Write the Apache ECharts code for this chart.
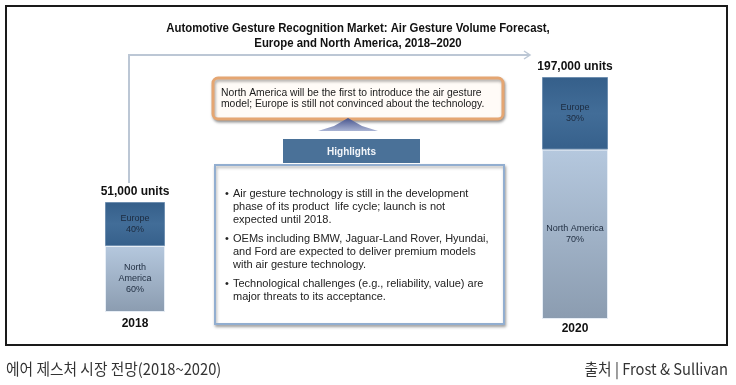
<!DOCTYPE html>
<html><head><meta charset="utf-8">
<script src="https://cdn.jsdelivr.net/npm/echarts@6/dist/echarts.min.js"></script>
<style>html,body{margin:0;padding:0;background:#fff}#c{width:736px;height:385px}</style>
</head><body><div id="c"></div>
<script>
// ---- data ----
const years = ['2018', '2020'];
const totals = [51000, 197000];
const totalLabels = ['51,000 units', '197,000 units'];
const europeShare = [40, 30];
const naShare = [60, 70];
const europeLabels = ['Europe\n40%', 'Europe\n30%'];
const naLabels = ['North\nAmerica\n60%', 'North America\n70%'];
const titleLines = ['Automotive Gesture Recognition Market: Air Gesture Volume Forecast,', 'Europe and North America, 2018\u20132020'];
const calloutLines = ['North America will be the first to introduce the air gesture', 'model; Europe is still not convinced about the technology.'];
const bullets = [
  ['Air gesture technology is still in the development', 'phase of its product  life cycle; launch is not', 'expected until 2018.'],
  ['OEMs including BMW, Jaguar-Land Rover, Hyundai,', 'and Ford are expected to deliver premium models', 'with air gesture technology.'],
  ['Technological challenges (e.g., reliability, value) are', 'major threats to its acceptance.']
];
const caption = '에어 제스처 시장 전망(2018~2020)';
const source = '출처 | Frost & Sullivan';

// ---- layout ----
const gridBoxes = [
  {left: 105, top: 202, width: 60, height: 110},
  {left: 542, top: 77, width: 66, height: 242}
];
const labelMargins = [6, 4];

const chart = echarts.init(document.getElementById('c'), null, {renderer: 'canvas'});

const grids = [], xAxes = [], yAxes = [], series = [];
years.forEach((yr, i) => {
  grids.push(Object.assign({}, gridBoxes[i]));
  xAxes.push({
    type: 'category', gridIndex: i, data: [yr],
    axisLine: {show: false}, axisTick: {show: false},
    axisLabel: {color: '#111', fontWeight: 'bold', fontSize: 12, fontFamily: 'Liberation Sans', margin: labelMargins[i]}
  });
  yAxes.push({type: 'value', gridIndex: i, min: 0, max: totals[i], show: false, splitLine: {show: false}});
  series.push({
    type: 'bar', xAxisIndex: i, yAxisIndex: i, stack: 's' + i, barWidth: '100%',
    data: [totals[i] * naShare[i] / 100],
    itemStyle: {
      color: new echarts.graphic.LinearGradient(0, 0, 0, 1, [
        {offset: 0, color: '#b5c8de'}, {offset: 1, color: '#8b9cb0'}
      ]),
      borderColor: '#e6edf5', borderWidth: 1
    },
    label: {show: true, position: 'inside', formatter: naLabels[i], color: '#1f2d40', fontSize: 9, lineHeight: 11, fontFamily: 'Liberation Sans'},
    silent: true
  });
  series.push({
    type: 'bar', xAxisIndex: i, yAxisIndex: i, stack: 's' + i, barWidth: '100%',
    data: [totals[i] * europeShare[i] / 100],
    itemStyle: {
      color: new echarts.graphic.LinearGradient(0, 0, 0, 1, [
        {offset: 0, color: '#355f8a'}, {offset: 0.5, color: '#426d98'}, {offset: 1, color: '#36608b'}
      ]),
      borderColor: '#6f8fb0', borderWidth: 1
    },
    label: {show: true, position: 'inside', formatter: europeLabels[i], color: '#1c2a3e', fontSize: 9, lineHeight: 11, fontFamily: 'Liberation Sans'},
    silent: true
  });
  series.push({
    type: 'bar', xAxisIndex: i, yAxisIndex: i, stack: 's' + i, barWidth: '100%',
    data: [0],
    itemStyle: {color: 'transparent'},
    label: {show: true, position: 'top', distance: 4, formatter: totalLabels[i], color: '#111', fontWeight: 'bold', fontSize: 12, fontFamily: 'Liberation Sans'},
    silent: true
  });
});

const graphic = [];
// outer frame
graphic.push({type: 'rect', shape: {x: 6, y: 6, width: 721, height: 339}, style: {fill: 'none', stroke: '#1a1a1a', lineWidth: 2}, z: 10});
// title
titleLines.forEach((t, k) => graphic.push({type: 'text', x: 358, y: 28 + k * 15, scaleX: 0.875, style: {text: t, font: 'bold 13px "Liberation Sans"', fill: '#111', align: 'center', verticalAlign: 'middle'}}));
// connector arrow
graphic.push({type: 'polyline', shape: {points: [[129, 183], [129, 55], [529, 55]]}, style: {stroke: '#bcc7d5', lineWidth: 2, fill: 'none'}});
graphic.push({type: 'polyline', shape: {points: [[524, 51], [530, 55], [524, 59]]}, style: {stroke: '#bcc7d5', lineWidth: 1.5, fill: 'none'}});
// callout
graphic.push({type: 'rect', shape: {x: 213, y: 78, width: 290, height: 41, r: 5}, style: {fill: '#fffbf7', stroke: '#e5a672', lineWidth: 3, shadowColor: 'rgba(0,0,0,0.35)', shadowBlur: 3, shadowOffsetX: 1, shadowOffsetY: 2}});
calloutLines.forEach((t, k) => graphic.push({type: 'text', x: 221, y: 93 + k * 11, scaleX: 0.9, style: {text: t, font: '11.5px "Liberation Sans"', fill: '#1a1a1a', verticalAlign: 'middle'}}));
// up arrow
graphic.push({type: 'polygon', shape: {points: [[318, 131], [334, 126], [348, 118], [362, 126], [378, 131]]}, style: {fill: new echarts.graphic.LinearGradient(0, 0, 0, 1, [{offset: 0, color: '#46538c'}, {offset: 1, color: '#aab4d4'}])}});
// highlights header
graphic.push({type: 'rect', shape: {x: 283, y: 139, width: 137, height: 24}, style: {fill: '#4a7198'}});
graphic.push({type: 'text', x: 351.5, y: 152, style: {text: 'Highlights', font: 'bold 10px "Liberation Sans"', fill: '#f2f5f9', align: 'center', verticalAlign: 'middle'}});
// bullet box
graphic.push({type: 'rect', shape: {x: 215, y: 165, width: 289, height: 159}, style: {fill: '#fff', stroke: '#92aed0', lineWidth: 2, shadowColor: 'rgba(0,0,0,0.3)', shadowBlur: 3, shadowOffsetX: 1, shadowOffsetY: 2}});
let yy = 194;
bullets.forEach((para) => {
  graphic.push({type: 'text', x: 225, y: yy, style: {text: '\u2022', font: '11px "Liberation Sans"', fill: '#222', verticalAlign: 'middle'}});
  para.forEach((line) => {
    graphic.push({type: 'text', x: 233, y: yy, style: {text: line, font: '11px "Liberation Sans"', fill: '#222', verticalAlign: 'middle'}});
    yy += 13;
  });
  yy += 6;
});
// footer
graphic.push({type: 'text', x: 6, y: 369, scaleX: 0.95, style: {text: caption, font: '15.5px "Noto Sans CJK KR"', fill: '#333', verticalAlign: 'middle'}});
graphic.push({type: 'text', x: 728, y: 369, scaleX: 0.95, style: {text: source, font: '15.5px "Noto Sans CJK KR"', fill: '#333', align: 'right', verticalAlign: 'middle'}});

chart.setOption({
  animation: false,
  backgroundColor: '#fff',
  grid: grids, xAxis: xAxes, yAxis: yAxes, series: series,
  graphic: graphic
});
</script></body></html>
